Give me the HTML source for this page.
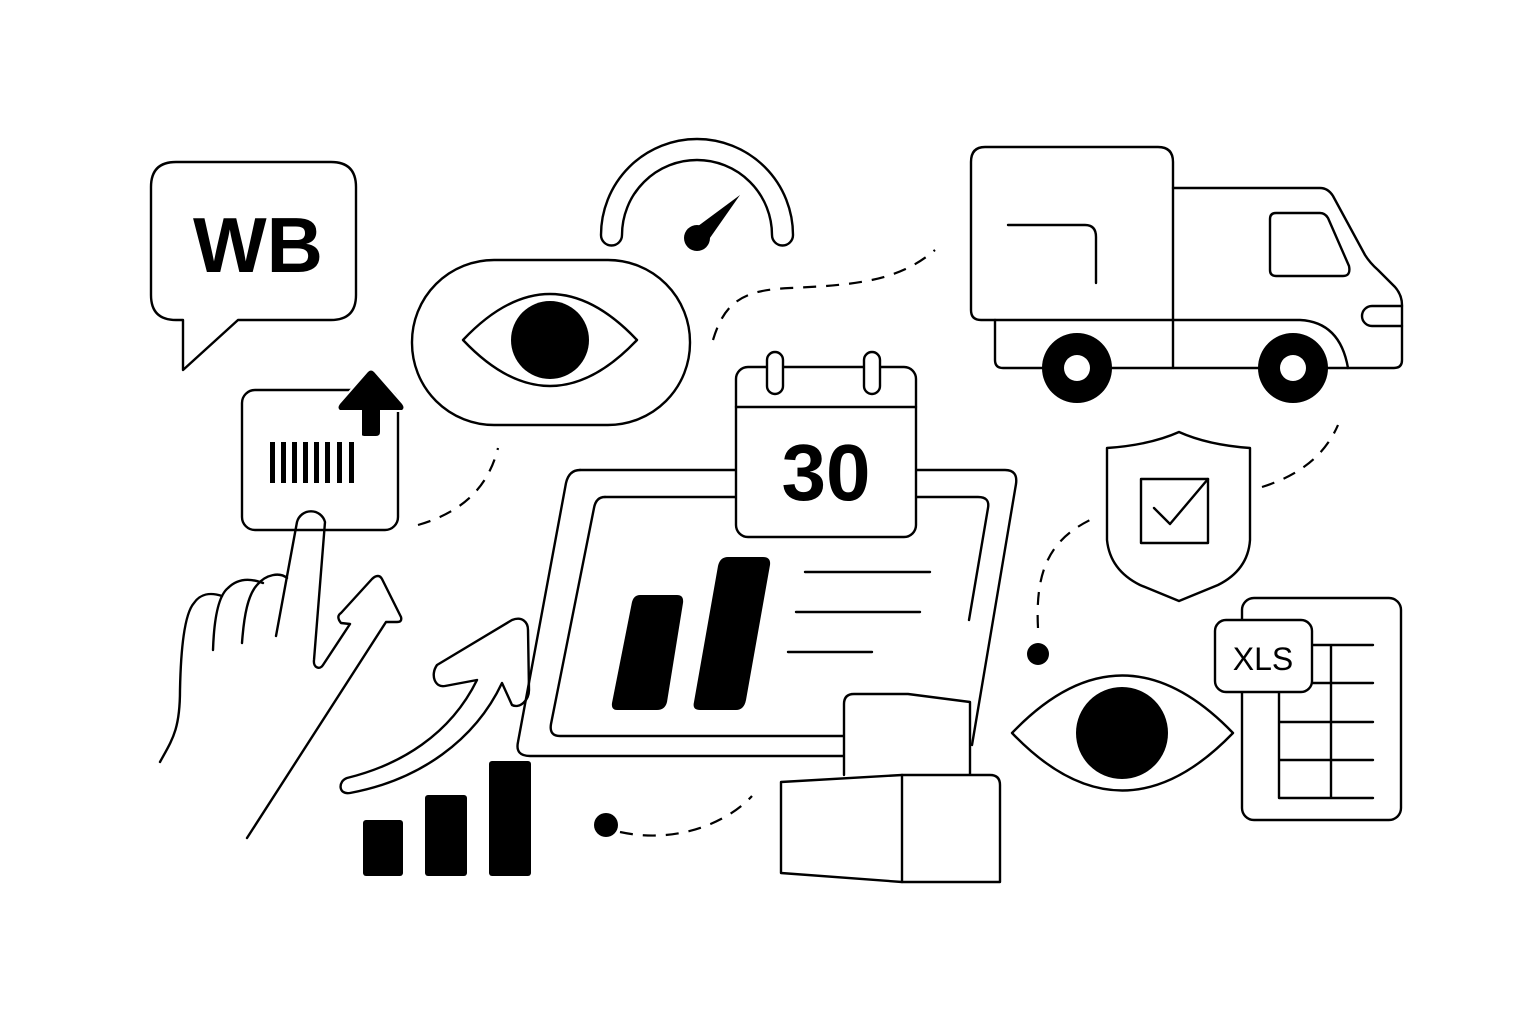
<!DOCTYPE html>
<html><head><meta charset="utf-8"><style>
html,body{margin:0;padding:0;background:#fff}
svg{display:block}
text{font-family:"Liberation Sans",sans-serif}
</style></head><body>
<svg width="1536" height="1024" viewBox="0 0 1536 1024" xmlns="http://www.w3.org/2000/svg">
<rect width="1536" height="1024" fill="#fff"/>
<g fill="none" stroke="#000" stroke-width="2.4" stroke-linejoin="round" stroke-linecap="round">
<path d="M176,162 H331 Q356,162 356,187 V295 Q356,320 331,320 H238 L183,370 V320 H176 Q151,320 151,295 V187 Q151,162 176,162 Z"/>
<path d="M601,235 A96,96 0 0 1 793,235 A10.5,10.5 0 0 1 772,235 A75,75 0 0 0 622,235 A10.5,10.5 0 0 1 601,235 Z"/>
<rect x="412" y="260" width="278" height="165" rx="82"/>
<path d="M463,340 Q550,248 637,340 Q550,432 463,340 Z"/>
<rect x="242" y="390" width="156" height="140" rx="13"/>
<path d="M160,762 C172,740 180,730 180,690 C181,640 186,612 194,603 C200,594 210,592 222,596"/>
<path d="M213,650 C214,620 218,596 228,588 C238,578 250,578 263,583"/>
<path d="M242,643 C244,615 248,595 257,585 C266,574 280,572 287,578"/>
<path d="M276,636 L297,522 A14.5,14.5 0 0 1 325,522 L314,660 C313,668 320,670 323,665 L350,624 L341,623 C337,618 338,615 341,613 L372,579 C376,575 380,575 382,579 L401,617 C402,621 400,622 397,622 L386,622 L247,838"/>
<path d="M347,778 C400,765 450,735 477,680 L445,686 C435,688 430,675 437,665 L512,620 C522,616 528,622 528,630 L529,690 C529,700 520,709 512,705 L502,683 C475,740 420,780 350,793 C338,795 338,781 347,778 Z"/>
<path d="M580,470 H1005 Q1018,470 1016,484 L972,745"/>
<path d="M843,756 H530 Q515,756 518,742 L566,483 Q569,470 580,470"/>
<path d="M605,497 H978 Q990,497 988,508 L969,620"/>
<path d="M843,736 H560 Q549,736 551,724 L594,508 Q596,497 605,497"/>
<rect x="736" y="367" width="180" height="170" rx="12" fill="#fff"/>
<line x1="736" y1="407" x2="916" y2="407"/>
<rect x="767" y="352" width="16" height="42" rx="8" fill="#fff"/>
<rect x="864" y="352" width="16" height="42" rx="8" fill="#fff"/>
<line x1="805" y1="572" x2="930" y2="572"/>
<line x1="796" y1="612" x2="920" y2="612"/>
<line x1="788" y1="652" x2="872" y2="652"/>
<path d="M844,775 V704 Q844,694 854,694 H908 L970,702 V775" fill="#fff"/>
<path d="M781,782 L902,775 H990 Q1000,775 1000,785 V882 H902 L781,873 Z" fill="#fff"/>
<line x1="902" y1="775" x2="902" y2="882"/>
<path d="M985,147 H1158 Q1173,147 1173,162 V320 H981 Q971,320 971,310 V162 Q971,147 985,147 Z"/>
<path d="M1173,188 H1320 Q1328,188 1333,196 L1365,255 Q1370,263 1378,270 L1395,287 Q1402,295 1402,305 V360 Q1402,368 1394,368 H1003 Q995,368 995,360 V320"/>
<line x1="1173" y1="320" x2="1173" y2="368"/>
<path d="M1173,320 H1300 Q1340,322 1348,368"/>
<path d="M1276,213 H1320 Q1325,213 1328,218 L1349,266 Q1351,276 1343,276 H1276 Q1270,276 1270,270 V219 Q1270,213 1276,213 Z"/>
<path d="M1402,306 H1372 A10,10 0 0 0 1372,326 H1402"/>
<path d="M1008,225 H1085 Q1096,225 1096,237 V283"/>
<path d="M1179,432 Q1150,445 1107,448 V540 Q1110,570 1140,585 L1179,601 L1218,585 Q1248,570 1250,540 V448 Q1208,445 1179,432 Z"/>
<rect x="1141" y="479" width="67" height="64"/>
<path d="M1154,508 L1170,524 L1208,479"/>
<path d="M1012,733 Q1122,618 1233,733 Q1122,848 1012,733 Z"/>
<rect x="1242" y="598" width="159" height="222" rx="12"/>
<path d="M1312,645 H1373 M1312,683 H1373 M1279,722 H1373 M1279,760 H1373 M1279,798 H1373 M1279,692 V798 M1331,645 V798"/>
<rect x="1215" y="620" width="97" height="72" rx="11" fill="#fff"/>
</g>
<g fill="none" stroke="#000" stroke-width="2.2" stroke-dasharray="13,10">
<path d="M713,340 C725,300 745,290 790,288 C860,285 900,280 935,250"/>
<path d="M418,525 C470,510 490,480 498,448"/>
<path d="M620,832 C680,845 730,820 752,796"/>
<path d="M1038,628 C1035,570 1050,540 1090,520"/>
<path d="M1262,487 C1300,475 1325,455 1338,425"/>
</g>
<g fill="#000">
<circle cx="550" cy="340" r="39"/>
<circle cx="697" cy="238" r="13"/>
<path d="M690,232 L740,195 L705,245 Z"/>
<rect x="270" y="442" width="5" height="41"/><rect x="281" y="442" width="5" height="41"/><rect x="292" y="442" width="5" height="41"/><rect x="303" y="442" width="5" height="41"/><rect x="314" y="442" width="5" height="41"/><rect x="325" y="442" width="5" height="41"/><rect x="337" y="442" width="5" height="41"/><rect x="349" y="442" width="5" height="41"/>
<path d="M362,435 V410 H340 Q337,408 340,404 L368,372 Q371,369 374,372 L402,404 Q405,408 402,410 H380 V432 Q380,436 376,436 H366 Q362,436 362,435 Z" stroke="#fff" stroke-width="4" paint-order="stroke"/>
<rect x="363" y="820" width="40" height="56" rx="3"/>
<rect x="425" y="795" width="42" height="81" rx="3"/>
<rect x="489" y="761" width="42" height="115" rx="3"/>
<circle cx="606" cy="825" r="12"/>
<path d="M640,595 H677 Q684,595 683,603 L667,702 Q665,710 657,710 H617 Q611,710 612,703 L632,602 Q634,595 640,595 Z"/>
<path d="M728,557 H763 Q771,557 770,565 L746,700 Q744,710 736,710 H700 Q692,710 694,702 L718,566 Q720,557 728,557 Z"/>
<circle cx="1077" cy="368" r="35"/>
<circle cx="1293" cy="368" r="35"/>
<circle cx="1122" cy="733" r="46"/>
<circle cx="1038" cy="654" r="11"/>
</g>
<circle cx="1077" cy="368" r="13" fill="#fff"/>
<circle cx="1293" cy="368" r="13" fill="#fff"/>
<text x="258" y="272" font-size="78" font-weight="bold" text-anchor="middle">WB</text>
<text x="826" y="500" font-size="80" font-weight="bold" text-anchor="middle">30</text>
<text x="1263" y="670" font-size="32" text-anchor="middle">XLS</text>
</svg>
</body></html>
